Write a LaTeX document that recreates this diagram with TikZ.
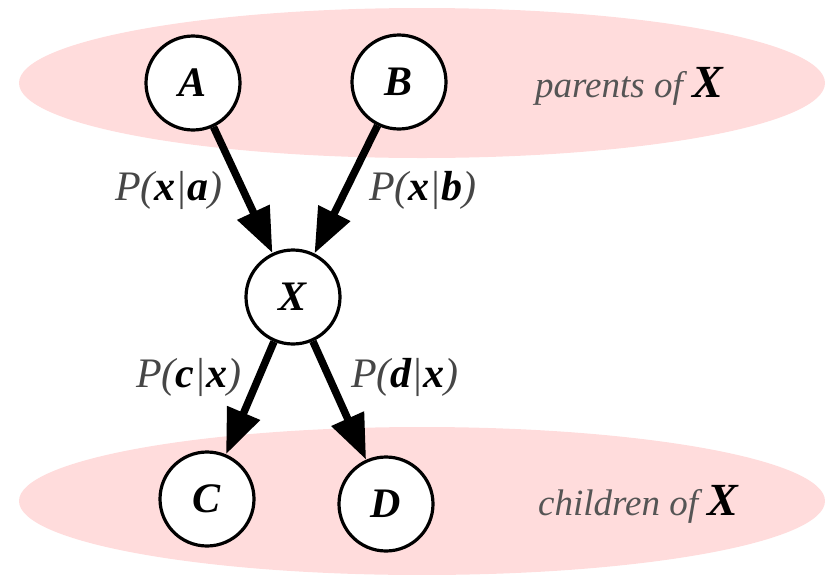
\documentclass[tikz,border=0pt]{standalone}
\usepackage{fontspec}
\setmainfont{Liberation Serif}
\usetikzlibrary{arrows.meta}
\definecolor{blob}{RGB}{255,220,220}
\definecolor{lbl}{RGB}{70,70,70}
\definecolor{cap}{RGB}{85,85,85}
\tikzset{
  var/.style={circle,draw=black,fill=white,line width=3.2pt,minimum size=94pt,inner sep=0pt,
    font=\fontsize{42}{44}\selectfont\bfseries\itshape},
  link/.style={line width=7.5pt,-{Triangle[length=45pt,width=34pt]}},
  prob/.style={anchor=base west,inner sep=0pt,text=lbl,font=\fontsize{42}{44}\selectfont\itshape},
  grp/.style={anchor=base west,inner sep=0pt,text=cap,font=\fontsize{37}{40}\selectfont\itshape},
  region/.style={fill=blob,draw=none}
}
\newcommand{\bv}[1]{\textcolor{black}{\bfseries #1}}
\begin{document}
\begin{tikzpicture}[x=1pt,y=-1pt]
\useasboundingbox (0,0) rectangle (825,574);
\fill[region] (422,83) ellipse [x radius=403, y radius=75];
\fill[region] (422,501) ellipse [x radius=403, y radius=74];
\node[var] (A) at (193,83) {A};
\node[var] (B) at (399,82) {B};
\node[var] (X) at (293,297) {X};
\node[var] (C) at (207,499) {C};
\node[var] (D) at (386,504) {D};
\draw[link] (A) -- (X);
\draw[link] (B) -- (X);
\draw[link] (X) -- (C);
\draw[link] (X) -- (D);
\node[prob] (la) at (115,200) {P(\bv{x}|\bv{a})};
\node[prob] (lb) at (369,200) {P(\bv{x}|\bv{b})};
\node[prob] (lc) at (136,387) {P(\bv{c}|\bv{x})};
\node[prob] (ld) at (351,387) {P(\bv{d}|\bv{x})};
\node[grp] (gp) at (535,97) {parents of \textcolor{black}{\fontsize{46}{46}\selectfont\bfseries X}};
\node[grp] (gc) at (538,515) {children of \textcolor{black}{\fontsize{46}{46}\selectfont\bfseries X}};
\end{tikzpicture}
\end{document}
